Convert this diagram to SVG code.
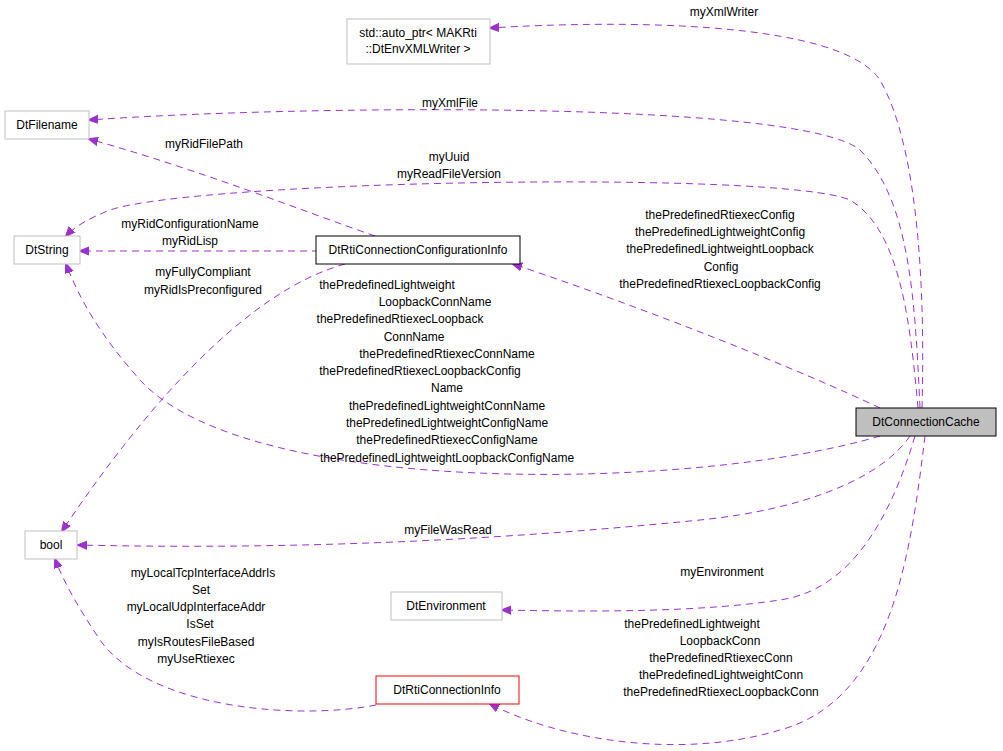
<svg xmlns="http://www.w3.org/2000/svg" width="1003" height="751" viewBox="0 0 1003 751">
<style>
text{font-family:"Liberation Sans",Arial,sans-serif;font-size:12px;fill:#000}
.n rect{fill:#fff;stroke:#bfbfbf;stroke-width:1}
.e path{fill:none;stroke:#9a32cd;stroke-width:1;stroke-dasharray:7,5;marker-end:url(#a)}
.c{text-anchor:middle}
</style>
<defs><marker id="a" viewBox="0 0 10 10" refX="9" refY="5" markerWidth="10" markerHeight="10" markerUnits="userSpaceOnUse" orient="auto"><path d="M0,1 L10,5 L0,9 z" fill="#9a32cd" stroke="#9a32cd"/></marker></defs>
<rect width="1003" height="751" fill="#fff"/>
<g class="e">
<path d="M922,408 C925,300 920,150 880,80 C840,20 620,20 490,28"/>
<path d="M920,408 C915,300 910,200 860,150 C800,100 300,105 89,120"/>
<path d="M375,236 C300,210 200,170 89,139"/>
<path d="M918,408 C910,320 900,230 850,200 C780,170 200,180 110,210 C90,218 75,226 66,236"/>
<path d="M331,251 L80,251"/>
<path d="M345,264 C250,290 150,400 62,531"/>
<path d="M880,408 C800,370 650,310 513,264"/>
<path d="M880,436 C700,490 250,500 140,380 C100,335 80,300 66,264"/>
<path d="M910,436 C880,480 800,510 700,520 C500,540 300,550 78,545"/>
<path d="M915,436 C890,520 850,590 780,600 C700,612 600,612 502,610"/>
<path d="M925,436 C910,560 890,700 780,730 C680,760 560,740 490,704"/>
<path d="M376,705 C300,720 150,710 100,640 C80,610 65,585 55,559"/>
</g>
<g id="auto_ptr" class="n"><rect x="347" y="19" width="143" height="45"/><text class="c" x="418" y="37">std::auto_ptr&lt; MAKRti</text><text class="c" x="418" y="53">::DtEnvXMLWriter &gt;</text></g>
<g id="DtFilename" class="n"><rect x="5" y="111" width="84" height="28"/><text class="c" x="47" y="129">DtFilename</text></g>
<g id="DtString" class="n"><rect x="14" y="236" width="66" height="28"/><text class="c" x="47" y="254">DtString</text></g>
<g id="ConfigInfo" class="n"><rect x="316" y="236" width="204" height="28" style="stroke:#000"/><text class="c" x="418" y="254">DtRtiConnectionConfigurationInfo</text></g>
<g id="DtConnectionCache" class="n"><rect x="856" y="408" width="140" height="28" style="fill:#bfbfbf;stroke:#000"/><text class="c" x="926" y="426">DtConnectionCache</text></g>
<g id="bool" class="n"><rect x="25" y="531" width="52" height="28"/><text class="c" x="51" y="549">bool</text></g>
<g id="DtEnvironment" class="n"><rect x="391" y="592" width="111" height="28"/><text class="c" x="446" y="610">DtEnvironment</text></g>
<g id="DtRtiConnectionInfo" class="n"><rect x="376" y="676" width="143" height="28" style="stroke:#f00"/><text class="c" x="447" y="694">DtRtiConnectionInfo</text></g>
<g id="labels">
<text class="c" x="724" y="16">myXmlWriter</text>
<text class="c" x="450" y="107">myXmlFile</text>
<text class="c" x="204" y="148">myRidFilePath</text>
<text class="c" x="449" y="161">myUuid</text><text class="c" x="449" y="178">myReadFileVersion</text>
<text class="c" x="190" y="228">myRidConfigurationName</text><text class="c" x="190" y="245">myRidLisp</text>
<text class="c" x="203" y="276">myFullyCompliant</text><text class="c" x="203" y="294">myRidIsPreconfigured</text>
<text class="c" x="720" y="219">thePredefinedRtiexecConfig</text><text class="c" x="720" y="236">thePredefinedLightweightConfig</text><text class="c" x="720" y="253">thePredefinedLightweightLoopback</text><text class="c" x="721" y="271">Config</text><text class="c" x="720" y="288">thePredefinedRtiexecLoopbackConfig</text>
<text class="c" x="387" y="289">thePredefinedLightweight</text><text class="c" x="435" y="306">LoopbackConnName</text><text class="c" x="400" y="323">thePredefinedRtiexecLoopback</text><text class="c" x="414" y="341">ConnName</text><text class="c" x="447" y="358">thePredefinedRtiexecConnName</text><text class="c" x="420" y="375">thePredefinedRtiexecLoopbackConfig</text><text class="c" x="447" y="392">Name</text><text class="c" x="447" y="410">thePredefinedLightweightConnName</text><text class="c" x="447" y="427">thePredefinedLightweightConfigName</text><text class="c" x="447" y="444">thePredefinedRtiexecConfigName</text><text class="c" x="447" y="462">thePredefinedLightweightLoopbackConfigName</text>
<text class="c" x="448" y="534">myFileWasRead</text>
<text class="c" x="722" y="576">myEnvironment</text>
<text class="c" x="692" y="628">thePredefinedLightweight</text><text class="c" x="720" y="645">LoopbackConn</text><text class="c" x="721" y="662">thePredefinedRtiexecConn</text><text class="c" x="721" y="679">thePredefinedLightweightConn</text><text class="c" x="721" y="696">thePredefinedRtiexecLoopbackConn</text>
<text class="c" x="203" y="577">myLocalTcpInterfaceAddrIs</text><text class="c" x="201" y="594">Set</text><text class="c" x="196" y="611">myLocalUdpInterfaceAddr</text><text class="c" x="200" y="628">IsSet</text><text class="c" x="196" y="646">myIsRoutesFileBased</text><text class="c" x="196" y="663">myUseRtiexec</text>
</g>
</svg>
